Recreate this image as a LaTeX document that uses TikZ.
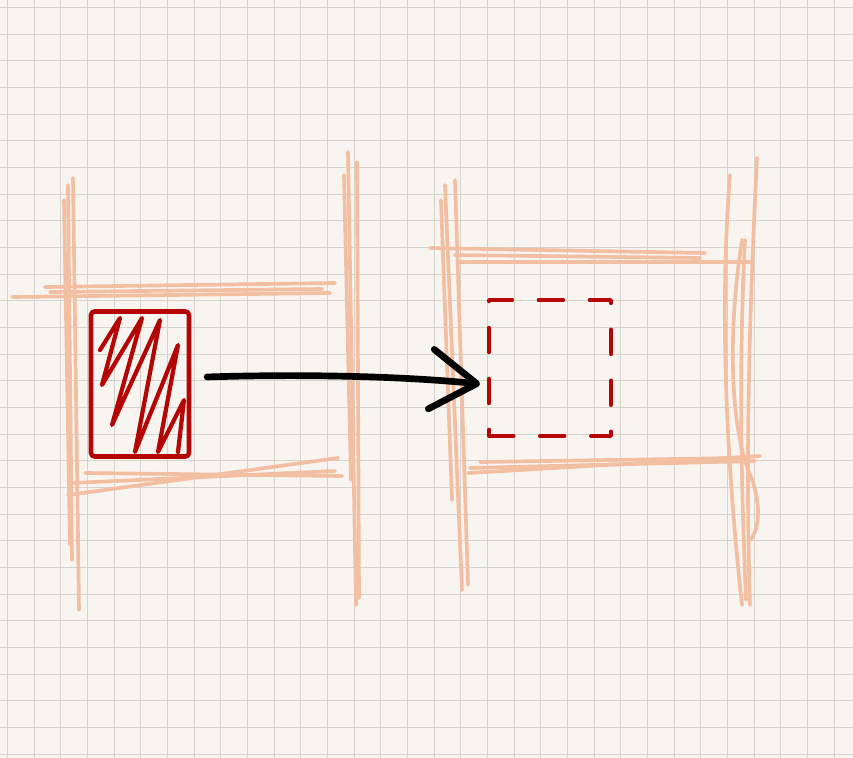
\documentclass[tikz,border=0pt]{standalone}
\usetikzlibrary{arrows.meta}
\definecolor{paper}{HTML}{F8F5F0}
\definecolor{gridgray}{HTML}{D6D2CC}
\definecolor{peach}{HTML}{F3BFA2}
\definecolor{inkred}{HTML}{B50606}
\tikzset{
  gridline/.style={draw=gridgray, line width=0.5pt},
  shelfline/.style={draw=peach, line width=2.1pt, line cap=round, line join=round},
  boxline/.style={draw=inkred, line width=2.6pt, line cap=round, line join=round},
  movearrow/.style={draw=black, line width=3.8pt, line cap=round,
    -{Straight Barb[length=26pt,width=34pt,round]}}
}
\begin{document}
\begin{tikzpicture}[x=0.02cm, y=-0.02cm]

                \fill[paper] (0,0) rectangle (853,758);
                \useasboundingbox (0,0) rectangle (853,758);

                % grid paper
                \foreach \i in {0,...,31} \draw[gridline] ({7.3+26.67*\i},0) -- ++(0,758);
                \foreach \j in {0,...,28} \draw[gridline] (0,{7.3+26.67*\j}) -- ++(853,0);

                % left shelf
                \draw[shelfline] (68,185) -- (72,560);
                \draw[shelfline] (73,178) -- (79,610);
                \draw[shelfline] (64,200) -- (70,545);
                \draw[shelfline] (348,152) -- (356,605);
                \draw[shelfline] (344,175) -- (351,480);
                \draw[shelfline] (357,162) -- (359,598);
                \draw[shelfline] (12,297) -- (330,293);
                \draw[shelfline] (45,287) -- (335,283);
                \draw[shelfline] (50,292) -- (322,289);
                \draw[shelfline] (68,495) -- (338,458);
                \draw[shelfline] (72,483) -- (335,471);
                \draw[shelfline] (85,473) -- (342,476);

                % right shelf
                \draw[shelfline] (445,185) -- (462,590);
                \draw[shelfline] (455,180) -- (468,585);
                \draw[shelfline] (441,200) -- (452,500);
                \draw[shelfline] (730,175) .. controls (720,300) and (725,450) .. (742,605);
                \draw[shelfline] (757,158) .. controls (750,300) and (745,450) .. (750,605);
                \draw[shelfline] (742,240) .. controls (728,330) and (730,420) .. (748,470)
                                 .. controls (762,500) and (760,530) .. (750,540);
                \draw[shelfline] (745,240) .. controls (738,380) and (742,500) .. (746,600);
                \draw[shelfline] (430,248) -- (705,253);
                \draw[shelfline] (460,262) -- (752,262);
                \draw[shelfline] (455,255) -- (700,258);
                \draw[shelfline] (468,473) -- (760,456);
                \draw[shelfline] (480,462) -- (740,458);
                \draw[shelfline] (470,468) -- (755,461);

                % book and its new place
                \node[boxline, rounded corners=2pt, minimum width=1.96cm, minimum height=2.9cm,
                      inner sep=0pt] (book) at (140,384) {};
                \draw[boxline, line width=2.4pt] (100,350) -- (120,318) -- (102,385) -- (142,318)
                      -- (112,425) -- (160,320) -- (135,452) -- (178,345) -- (158,452)
                      -- (184,400) -- (178,452);
                \node[boxline, line width=2.2pt, dash pattern=on 14pt off 15pt,
                      minimum width=2.44cm, minimum height=2.72cm, inner sep=0pt]
                      (slot) at (550,368) {};

                \draw[movearrow] ([xshift=9pt,yshift=4pt]book.east)
                      .. controls (300,374) and (400,376) .. ([xshift=-4pt]slot.west |- book.east);

\end{tikzpicture}
\end{document}
